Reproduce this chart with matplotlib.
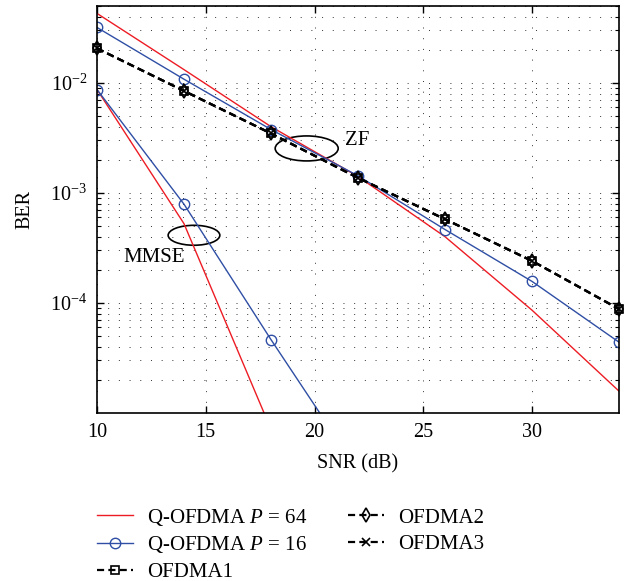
import numpy as np
import matplotlib
matplotlib.use("Agg")
import matplotlib.pyplot as plt
from matplotlib.patches import Ellipse
from matplotlib.ticker import LogLocator, NullFormatter, FixedLocator

# valeurs (BER en fonction du SNR)
snr = [10, 14, 18, 22, 26, 30, 34]
snr_mmse = [10, 14, 18, 22]

# Q-OFDMA P = 64 (rouge, sans marqueurs)
ber_p64_zf = [4.28e-2, 1.32e-2, 4.0e-3, 1.41e-3, 4.0e-4, 8.6e-5, 1.58e-5]
ber_p64_mmse = [8.7e-3, 5.25e-4, 7.1e-6, 1.0e-7]

# Q-OFDMA P = 16 (bleu, cercles)
ber_p16_zf = [3.19e-2, 1.08e-2, 3.77e-3, 1.43e-3, 4.65e-4, 1.57e-4, 4.4e-5]
ber_p16_mmse = [8.7e-3, 7.9e-4, 4.64e-5, 3.0e-6]

# OFDMA1, OFDMA2, OFDMA3 (noir, tirets) - quasiment confondus
ber_ofdma1 = [2.06e-2, 8.45e-3, 3.47e-3, 1.37e-3, 5.77e-4, 2.41e-4, 8.8e-5]
ber_ofdma2 = [2.06e-2, 8.45e-3, 3.47e-3, 1.37e-3, 5.77e-4, 2.41e-4, 8.8e-5]
ber_ofdma3 = [2.06e-2, 8.45e-3, 3.47e-3, 1.37e-3, 5.77e-4, 2.41e-4, 8.8e-5]

x_ticks = [10, 15, 20, 25, 30]
y_ticks = [1e-4, 1e-3, 1e-2]

# -------- Style général --------
plt.rcParams['font.family'] = ['Liberation Serif', 'DejaVu Serif']
plt.rcParams['mathtext.fontset'] = 'custom'
plt.rcParams['mathtext.rm'] = 'Liberation Serif'
plt.rcParams['mathtext.it'] = 'Liberation Serif:italic'
plt.rcParams['font.size'] = 14.5

rouge = '#ed1c24'
bleu = '#2f4fa5'

fig = plt.figure(figsize=(6.25, 5.81), dpi=100)
ax = fig.add_axes([0.1552, 0.2892, 0.8352, 0.7005])

# -------- Courbes --------
ax.plot(snr, ber_p64_zf, color=rouge, lw=1.0, label='Q-OFDMA $P$ = 64')
ax.plot(snr_mmse, ber_p64_mmse, color=rouge, lw=1.0)
ax.plot(snr, ber_p16_zf, color=bleu, lw=1.0, marker='o', ms=7.5,
        mfc='none', mec=bleu, mew=1.0, label='Q-OFDMA $P$ = 16')
ax.plot(snr_mmse, ber_p16_mmse, color=bleu, lw=1.0, marker='o', ms=7.5,
        mfc='none', mec=bleu, mew=1.0)

style_noir = dict(color='black', lw=1.6, dashes=(3.2, 1.9), mfc='none',
                  mec='black', mew=1.2, clip_on=False)
ax.plot(snr, ber_ofdma1, marker='s', ms=6, label='OFDMA1', **style_noir)
ax.plot(snr, ber_ofdma2, marker='d', ms=7.5, label='OFDMA2', **style_noir)
ax.plot(snr, ber_ofdma3, marker='x', ms=6, label='OFDMA3', **style_noir)

# -------- Axes --------
ax.set_yscale('log')
ax.set_xlim(10, 34)
ax.set_ylim(1e-5, 5e-2)
ax.xaxis.set_major_locator(FixedLocator(x_ticks))
ax.yaxis.set_major_locator(FixedLocator(y_ticks))
ax.yaxis.set_minor_locator(LogLocator(base=10, subs=np.arange(2, 10)))
ax.yaxis.set_minor_formatter(NullFormatter())

ax.tick_params(which='both', direction='in', top=True, right=True)
ax.tick_params(which='major', length=5, width=1, pad=7)
ax.tick_params(which='minor', length=3, width=0.8)
for s in ax.spines.values():
    s.set_linewidth(1.2)

# grille pointillée façon MATLAB
grille = dict(color='0.2', lw=0.7, linestyle=(0, (1, 10)))
ax.grid(True, which='major', axis='both', **grille)
ax.grid(True, which='minor', axis='y', **grille)
ax.set_axisbelow(True)

ax.set_xlabel('SNR (dB)', labelpad=9)
ax.set_ylabel('BER', labelpad=11)

# -------- Annotations ZF / MMSE --------
ax.add_patch(Ellipse((0.4017, 0.650), 0.1207, 0.0614, transform=ax.transAxes,
                     fill=False, ec='black', lw=1.2))
ax.text(21.4, 3.0e-3, 'ZF', ha='left', va='center', fontsize=15)
ax.add_patch(Ellipse((0.1858, 0.4366), 0.099, 0.049, transform=ax.transAxes,
                     fill=False, ec='black', lw=1.2))
ax.text(11.2, 2.59e-4, 'MMSE', ha='left', va='center', fontsize=15)

# -------- Légende --------
ax.legend(loc='upper left', bbox_to_anchor=(0.139, 0.146),
          bbox_transform=fig.transFigure, ncol=2, frameon=False,
          borderpad=0, handlelength=1.7, handletextpad=0.67,
          columnspacing=2.0, labelspacing=0.33, fontsize=15)

fig.savefig('out.png', dpi=100)
